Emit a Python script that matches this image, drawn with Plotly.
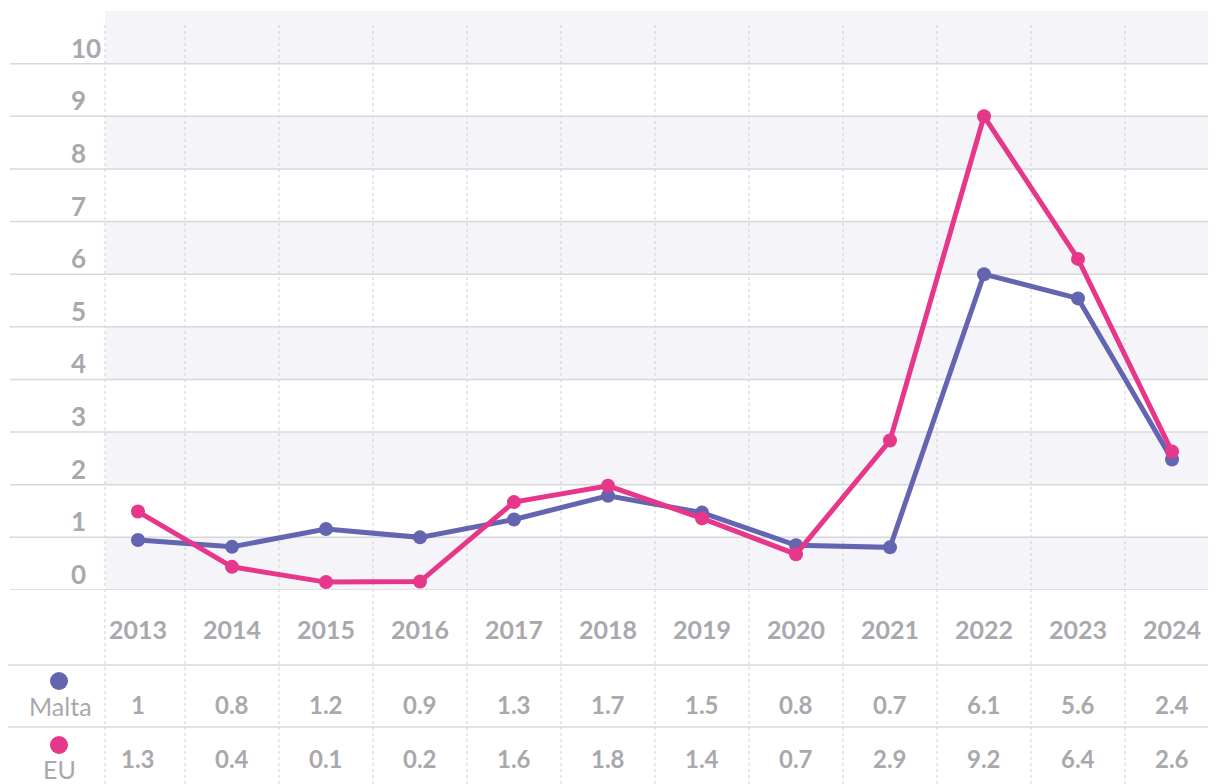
import plotly.graph_objects as go

# ---------------- data ----------------
years = ["2013", "2014", "2015", "2016", "2017", "2018", "2019", "2020", "2021", "2022", "2023", "2024"]
malta_line = [0.95, 0.82, 1.16, 1.0, 1.34, 1.79, 1.47, 0.85, 0.81, 6.0, 5.54, 2.48]
eu_line = [1.49, 0.44, 0.15, 0.16, 1.67, 1.98, 1.36, 0.68, 2.84, 9.0, 6.29, 2.63]
malta_table = ["1", "0.8", "1.2", "0.9", "1.3", "1.7", "1.5", "0.8", "0.7", "6.1", "5.6", "2.4"]
eu_table = ["1.3", "0.4", "0.1", "0.2", "1.6", "1.8", "1.4", "0.7", "2.9", "9.2", "6.4", "2.6"]
y_ticks = [0, 1, 2, 3, 4, 5, 6, 7, 8, 9, 10]
series_names = ["Malta", "EU"]

# ---------------- style ----------------
OFF = 8  # page body margin
W, H = 1216 - OFF, 784 - OFF
PURPLE = "#6465b1"
PINK = "#e6378a"
BAND = "#f5f5f9"
GRID = "#d8d8dc"
DOT = "#cfcfd3"
TXT = "#a9a9ad"
FONT = "Lato"


def py(px):
    return 1 - (px - OFF) / H


def pxx(px):
    return (px - OFF) / W


fig = go.Figure()

fig.add_trace(go.Scatter(
    x=years, y=malta_line, mode="lines+markers", name=series_names[0],
    line=dict(color=PURPLE, width=5), marker=dict(color=PURPLE, size=14),
    cliponaxis=False, hoverinfo="skip"))
fig.add_trace(go.Scatter(
    x=years, y=eu_line, mode="lines+markers", name=series_names[1],
    line=dict(color=PINK, width=5), marker=dict(color=PINK, size=14),
    cliponaxis=False, hoverinfo="skip"))

shapes = []
# alternating bands
for lo in [0, 2, 4, 6, 8, 10]:
    shapes.append(dict(type="rect", xref="paper", yref="y", x0=pxx(105), x1=1,
                       y0=lo, y1=min(lo + 1, 11), fillcolor=BAND, line=dict(width=0),
                       layer="below"))
# vertical dotted separators
shapes.append(dict(type="line", xref="paper", yref="paper", x0=pxx(105), x1=pxx(105),
                   y0=0, y1=py(24), line=dict(color=DOT, width=1, dash="dot"), layer="below"))
for i in range(len(years) - 1):
    shapes.append(dict(type="line", xref="x", yref="paper", x0=i + 0.5, x1=i + 0.5,
                       y0=0, y1=py(23), line=dict(color=DOT, width=1, dash="dot"),
                       layer="below"))
# horizontal gridlines
for v in y_ticks:
    shapes.append(dict(type="line", xref="paper", yref="y", x0=pxx(10), x1=1,
                       y0=v, y1=v, line=dict(color=GRID, width=1.5), layer="below"))
# table lines
for ypx in [665, 727]:
    shapes.append(dict(type="line", xref="paper", yref="paper", x0=pxx(7), x1=1,
                       y0=py(ypx), y1=py(ypx), line=dict(color=GRID, width=1.5),
                       layer="below"))
# legend dots
for cy, col in [(681, PURPLE), (745, PINK)]:
    shapes.append(dict(type="circle", xref="paper", yref="paper",
                       x0=pxx(59 - 9), x1=pxx(59 + 9), y0=py(cy + 9), y1=py(cy - 9),
                       fillcolor=col, line=dict(width=0)))

annotations = []
# y tick labels (sitting above their gridline)
for v in y_ticks:
    annotations.append(dict(text=f"<b>{v}</b>", xref="paper", yref="y", x=pxx(69), y=v,
                            yshift=16, xanchor="left", yanchor="middle", showarrow=False,
                            font=dict(family=FONT, size=26, color=TXT)))
# x labels and table values
for i, yr in enumerate(years):
    annotations.append(dict(text=f"<b>{yr}</b>", xref="x", yref="paper", x=i, y=py(629),
                            xanchor="center", yanchor="middle", showarrow=False,
                            font=dict(family=FONT, size=25, color=TXT)))
    annotations.append(dict(text=f"<b>{malta_table[i]}</b>", xref="x", yref="paper", x=i,
                            y=py(704), xanchor="center", yanchor="middle", showarrow=False,
                            font=dict(family=FONT, size=24, color=TXT)))
    annotations.append(dict(text=f"<b>{eu_table[i]}</b>", xref="x", yref="paper", x=i,
                            y=py(758), xanchor="center", yanchor="middle", showarrow=False,
                            font=dict(family=FONT, size=24, color=TXT)))
# row labels
annotations.append(dict(text=series_names[0], xref="paper", yref="paper", x=pxx(60), y=py(706),
                        xanchor="center", yanchor="middle", showarrow=False,
                        font=dict(family=FONT, size=25, color=TXT)))
annotations.append(dict(text=series_names[1], xref="paper", yref="paper", x=pxx(59), y=py(769),
                        xanchor="center", yanchor="middle", showarrow=False,
                        font=dict(family=FONT, size=25, color=TXT)))

fig.update_layout(
    width=W, height=H, autosize=False,
    margin=dict(l=0, r=0, t=0, b=0),
    paper_bgcolor="white", plot_bgcolor="rgba(0,0,0,0)",
    showlegend=False,
    xaxis=dict(type="category", domain=[pxx(105), 1], range=[-0.351, 11.468],
               showgrid=False, zeroline=False, showticklabels=False, showline=False,
               fixedrange=True),
    yaxis=dict(domain=[py(590), py(11)], range=[0, 11], showgrid=False, zeroline=False,
               showticklabels=False, showline=False, fixedrange=True),
    shapes=shapes, annotations=annotations,
)

fig.write_html("out.html")
